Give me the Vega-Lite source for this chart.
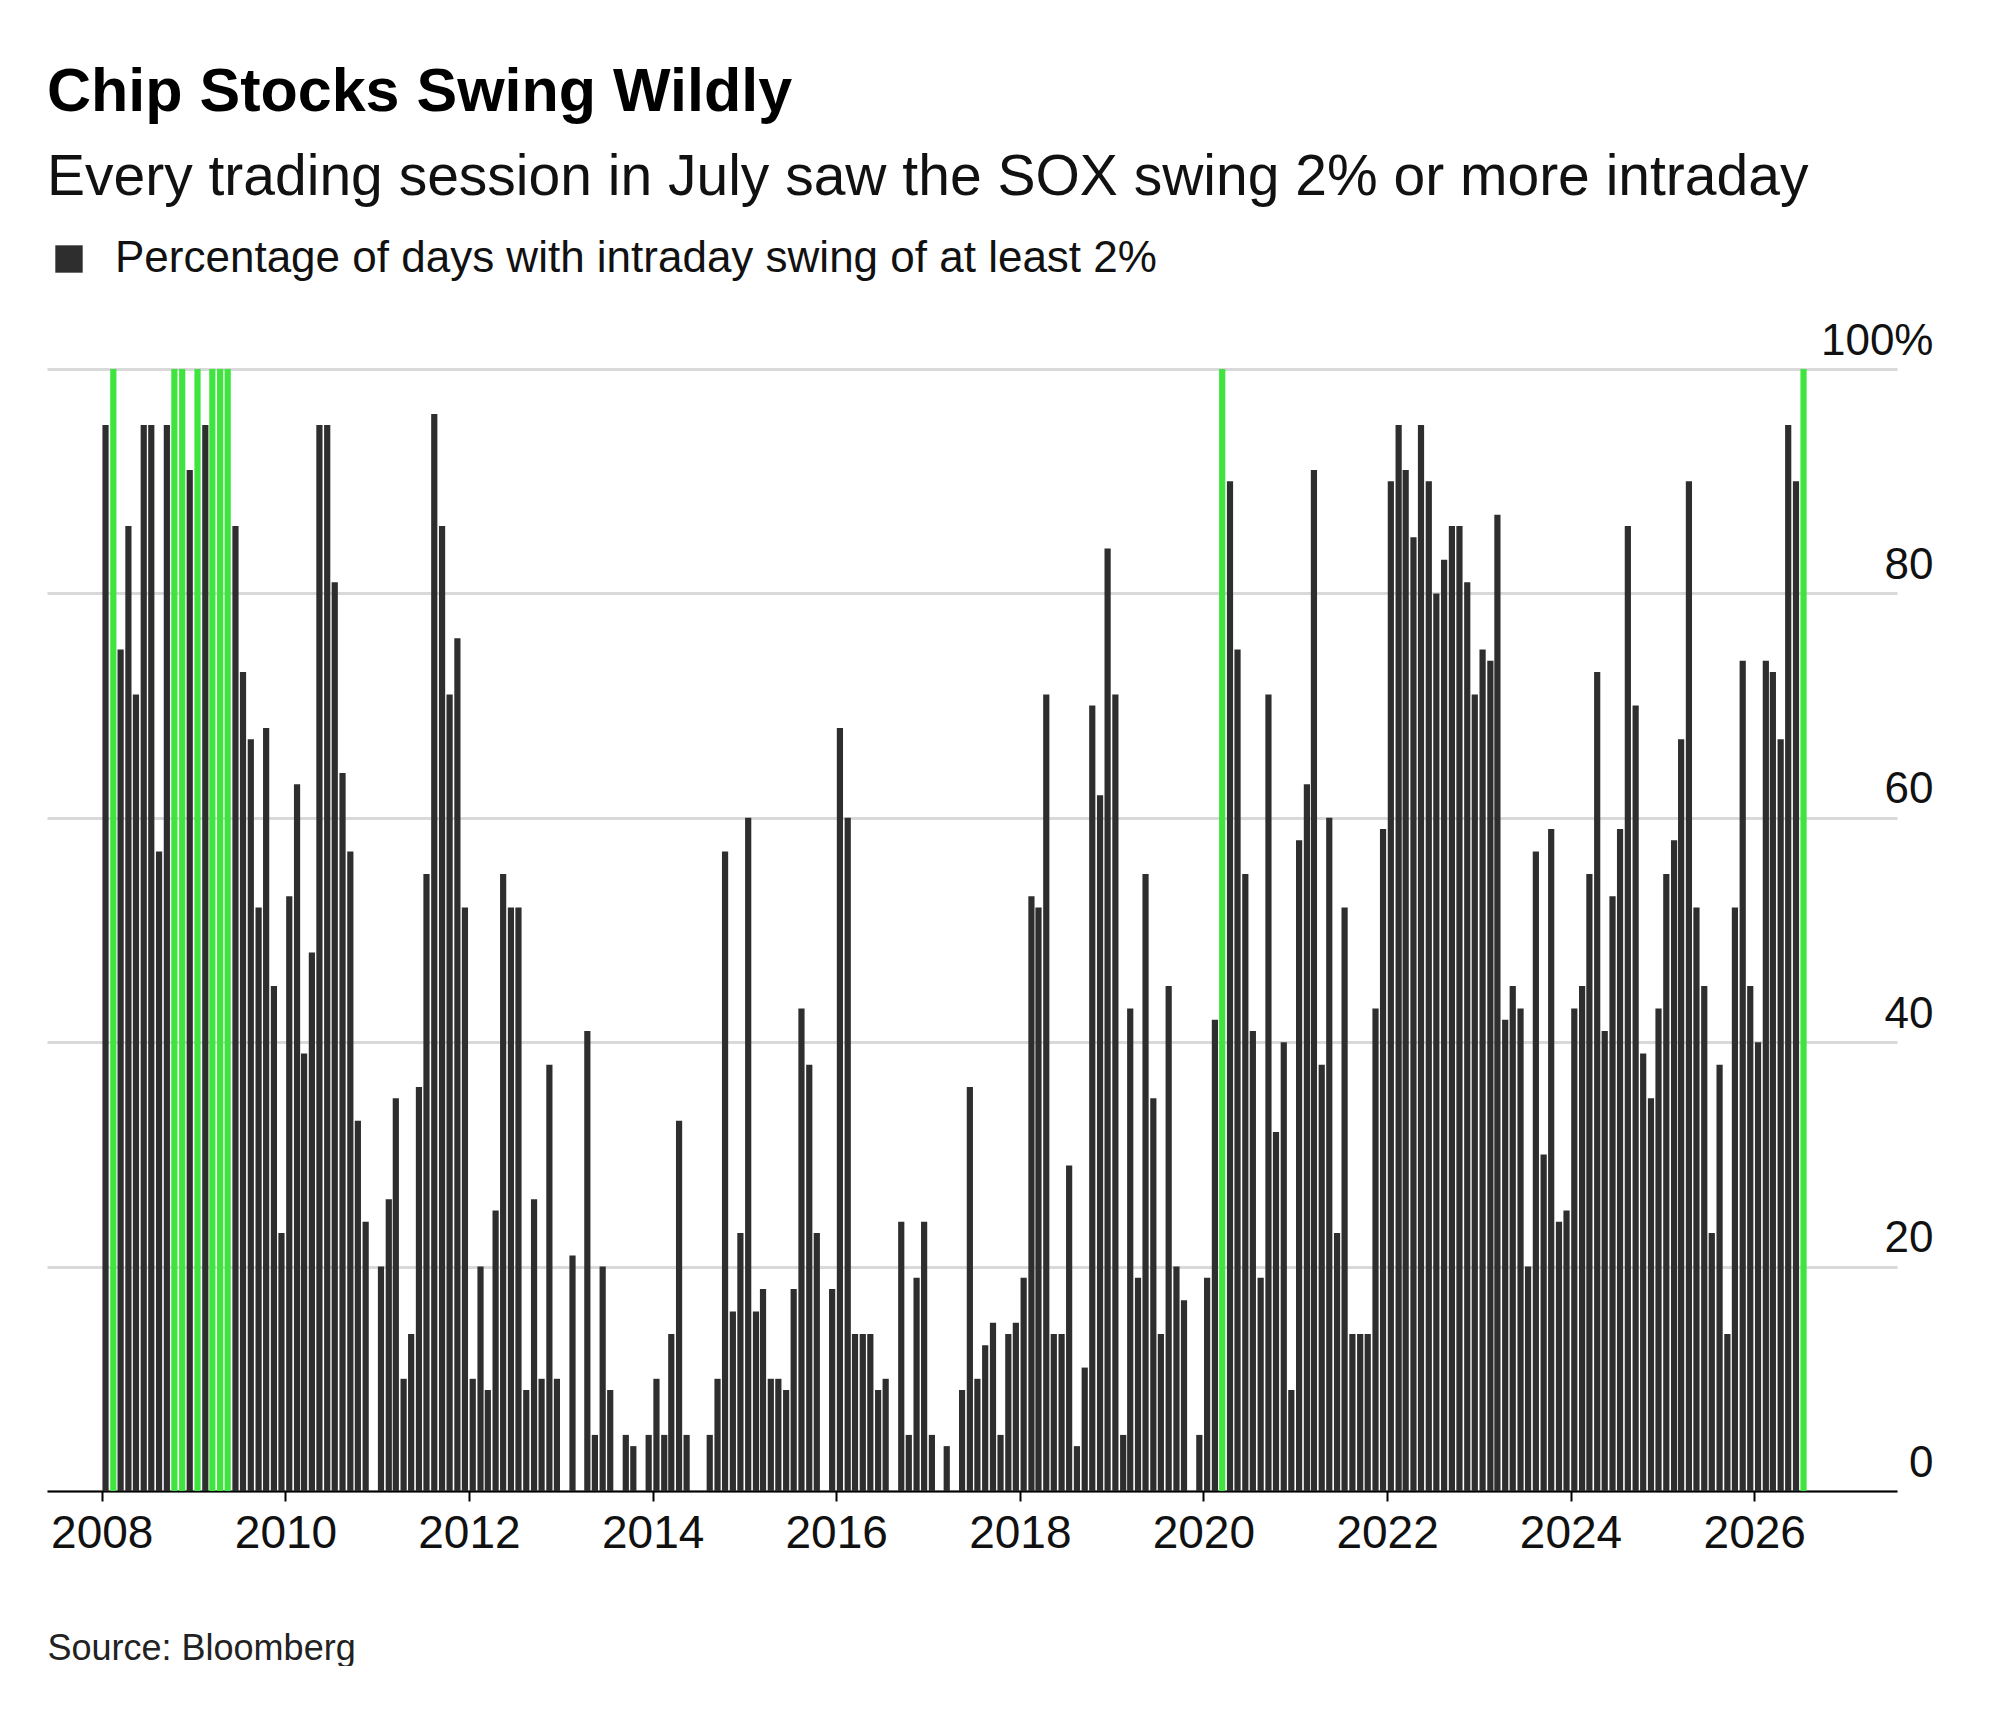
{
  "$schema": "https://vega.github.io/schema/vega-lite/v6.json",
  "width": 1850,
  "height": 1122,
  "padding": {"left": 47, "top": 62, "right": 0, "bottom": 0},
  "background": "white",
  "config": {
    "font": "Liberation Sans",
    "view": {"stroke": null}
  },
  "title": {
    "text": "Chip Stocks Swing Wildly",
    "subtitle": "Every trading session in July saw the SOX swing 2% or more intraday",
    "anchor": "start",
    "frame": "group",
    "font": "Liberation Sans",
    "fontSize": 61,
    "fontWeight": "bold",
    "color": "#000000",
    "subtitleFont": "Liberation Sans",
    "subtitleFontSize": 57,
    "subtitleColor": "#111111",
    "subtitlePadding": 26,
    "offset": 30
  },
  "data": {
    "values": [
      {"m": 0, "v": 95}, {"m": 1, "v": 100}, {"m": 2, "v": 75}, {"m": 3, "v": 86}, {"m": 4, "v": 71}, {"m": 5, "v": 95}, {"m": 6, "v": 95}, {"m": 7, "v": 57}, {"m": 8, "v": 95}, {"m": 9, "v": 100}, {"m": 10, "v": 100}, {"m": 11, "v": 91},
      {"m": 12, "v": 100}, {"m": 13, "v": 95}, {"m": 14, "v": 100}, {"m": 15, "v": 100}, {"m": 16, "v": 100}, {"m": 17, "v": 86}, {"m": 18, "v": 73}, {"m": 19, "v": 67}, {"m": 20, "v": 52}, {"m": 21, "v": 68}, {"m": 22, "v": 45}, {"m": 23, "v": 23},
      {"m": 24, "v": 53}, {"m": 25, "v": 63}, {"m": 26, "v": 39}, {"m": 27, "v": 48}, {"m": 28, "v": 95}, {"m": 29, "v": 95}, {"m": 30, "v": 81}, {"m": 31, "v": 64}, {"m": 32, "v": 57}, {"m": 33, "v": 33}, {"m": 34, "v": 24}, {"m": 35, "v": 0},
      {"m": 36, "v": 20}, {"m": 37, "v": 26}, {"m": 38, "v": 35}, {"m": 39, "v": 10}, {"m": 40, "v": 14}, {"m": 41, "v": 36}, {"m": 42, "v": 55}, {"m": 43, "v": 96}, {"m": 44, "v": 86}, {"m": 45, "v": 71}, {"m": 46, "v": 76}, {"m": 47, "v": 52},
      {"m": 48, "v": 10}, {"m": 49, "v": 20}, {"m": 50, "v": 9}, {"m": 51, "v": 25}, {"m": 52, "v": 55}, {"m": 53, "v": 52}, {"m": 54, "v": 52}, {"m": 55, "v": 9}, {"m": 56, "v": 26}, {"m": 57, "v": 10}, {"m": 58, "v": 38}, {"m": 59, "v": 10},
      {"m": 60, "v": 0}, {"m": 61, "v": 21}, {"m": 62, "v": 0}, {"m": 63, "v": 41}, {"m": 64, "v": 5}, {"m": 65, "v": 20}, {"m": 66, "v": 9}, {"m": 67, "v": 0}, {"m": 68, "v": 5}, {"m": 69, "v": 4}, {"m": 70, "v": 0}, {"m": 71, "v": 5},
      {"m": 72, "v": 10}, {"m": 73, "v": 5}, {"m": 74, "v": 14}, {"m": 75, "v": 33}, {"m": 76, "v": 5}, {"m": 77, "v": 0}, {"m": 78, "v": 0}, {"m": 79, "v": 5}, {"m": 80, "v": 10}, {"m": 81, "v": 57}, {"m": 82, "v": 16}, {"m": 83, "v": 23},
      {"m": 84, "v": 60}, {"m": 85, "v": 16}, {"m": 86, "v": 18}, {"m": 87, "v": 10}, {"m": 88, "v": 10}, {"m": 89, "v": 9}, {"m": 90, "v": 18}, {"m": 91, "v": 43}, {"m": 92, "v": 38}, {"m": 93, "v": 23}, {"m": 94, "v": 0}, {"m": 95, "v": 18},
      {"m": 96, "v": 68}, {"m": 97, "v": 60}, {"m": 98, "v": 14}, {"m": 99, "v": 14}, {"m": 100, "v": 14}, {"m": 101, "v": 9}, {"m": 102, "v": 10}, {"m": 103, "v": 0}, {"m": 104, "v": 24}, {"m": 105, "v": 5}, {"m": 106, "v": 19}, {"m": 107, "v": 24},
      {"m": 108, "v": 5}, {"m": 109, "v": 0}, {"m": 110, "v": 4}, {"m": 111, "v": 0}, {"m": 112, "v": 9}, {"m": 113, "v": 36}, {"m": 114, "v": 10}, {"m": 115, "v": 13}, {"m": 116, "v": 15}, {"m": 117, "v": 5}, {"m": 118, "v": 14}, {"m": 119, "v": 15},
      {"m": 120, "v": 19}, {"m": 121, "v": 53}, {"m": 122, "v": 52}, {"m": 123, "v": 71}, {"m": 124, "v": 14}, {"m": 125, "v": 14}, {"m": 126, "v": 29}, {"m": 127, "v": 4}, {"m": 128, "v": 11}, {"m": 129, "v": 70}, {"m": 130, "v": 62}, {"m": 131, "v": 84},
      {"m": 132, "v": 71}, {"m": 133, "v": 5}, {"m": 134, "v": 43}, {"m": 135, "v": 19}, {"m": 136, "v": 55}, {"m": 137, "v": 35}, {"m": 138, "v": 14}, {"m": 139, "v": 45}, {"m": 140, "v": 20}, {"m": 141, "v": 17}, {"m": 142, "v": 0}, {"m": 143, "v": 5},
      {"m": 144, "v": 19}, {"m": 145, "v": 42}, {"m": 146, "v": 100}, {"m": 147, "v": 90}, {"m": 148, "v": 75}, {"m": 149, "v": 55}, {"m": 150, "v": 41}, {"m": 151, "v": 19}, {"m": 152, "v": 71}, {"m": 153, "v": 32}, {"m": 154, "v": 40}, {"m": 155, "v": 9},
      {"m": 156, "v": 58}, {"m": 157, "v": 63}, {"m": 158, "v": 91}, {"m": 159, "v": 38}, {"m": 160, "v": 60}, {"m": 161, "v": 23}, {"m": 162, "v": 52}, {"m": 163, "v": 14}, {"m": 164, "v": 14}, {"m": 165, "v": 14}, {"m": 166, "v": 43}, {"m": 167, "v": 59},
      {"m": 168, "v": 90}, {"m": 169, "v": 95}, {"m": 170, "v": 91}, {"m": 171, "v": 85}, {"m": 172, "v": 95}, {"m": 173, "v": 90}, {"m": 174, "v": 80}, {"m": 175, "v": 83}, {"m": 176, "v": 86}, {"m": 177, "v": 86}, {"m": 178, "v": 81}, {"m": 179, "v": 71},
      {"m": 180, "v": 75}, {"m": 181, "v": 74}, {"m": 182, "v": 87}, {"m": 183, "v": 42}, {"m": 184, "v": 45}, {"m": 185, "v": 43}, {"m": 186, "v": 20}, {"m": 187, "v": 57}, {"m": 188, "v": 30}, {"m": 189, "v": 59}, {"m": 190, "v": 24}, {"m": 191, "v": 25},
      {"m": 192, "v": 43}, {"m": 193, "v": 45}, {"m": 194, "v": 55}, {"m": 195, "v": 73}, {"m": 196, "v": 41}, {"m": 197, "v": 53}, {"m": 198, "v": 59}, {"m": 199, "v": 86}, {"m": 200, "v": 70}, {"m": 201, "v": 39}, {"m": 202, "v": 35}, {"m": 203, "v": 43},
      {"m": 204, "v": 55}, {"m": 205, "v": 58}, {"m": 206, "v": 67}, {"m": 207, "v": 90}, {"m": 208, "v": 52}, {"m": 209, "v": 45}, {"m": 210, "v": 23}, {"m": 211, "v": 38}, {"m": 212, "v": 14}, {"m": 213, "v": 52}, {"m": 214, "v": 74}, {"m": 215, "v": 45},
      {"m": 216, "v": 40}, {"m": 217, "v": 74}, {"m": 218, "v": 73}, {"m": 219, "v": 67}, {"m": 220, "v": 95}, {"m": 221, "v": 90}, {"m": 222, "v": 100}
    ]
  },
  "transform": [
    {"calculate": "datetime(2008 + floor(datum.m / 12), datum.m % 12, 16)", "as": "date"},
    {"calculate": "'Percentage of days with intraday swing of at least 2%'", "as": "series"}
  ],
  "mark": {"type": "bar", "width": 6.2},
  "encoding": {
    "x": {
      "field": "date",
      "type": "temporal",
      "scale": {"domain": [{"year": 2007, "month": 6, "date": 17}, {"year": 2027, "month": 7, "date": 3}]},
      "axis": {
        "values": [
          {"year": 2008, "month": 1, "date": 1}, {"year": 2010, "month": 1, "date": 1}, {"year": 2012, "month": 1, "date": 1},
          {"year": 2014, "month": 1, "date": 1}, {"year": 2016, "month": 1, "date": 1}, {"year": 2018, "month": 1, "date": 1},
          {"year": 2020, "month": 1, "date": 1}, {"year": 2022, "month": 1, "date": 1}, {"year": 2024, "month": 1, "date": 1},
          {"year": 2026, "month": 1, "date": 1}
        ],
        "format": "%Y",
        "grid": false,
        "domainColor": "#000000",
        "domainWidth": 2,
        "tickColor": "#000000",
        "tickWidth": 2,
        "tickSize": 10,
        "labelFontSize": 46,
        "labelColor": "#111111",
        "labelPadding": 10,
        "title": "Source: Bloomberg",
        "titleFontSize": 36,
        "titleFontWeight": "normal",
        "titleColor": "#222222",
        "titleAnchor": "start",
        "titleAlign": "left",
        "titlePadding": 75
      }
    },
    "y": {
      "field": "v",
      "type": "quantitative",
      "scale": {"domain": [0, 100]},
      "axis": {
        "orient": "right",
        "values": [0, 20, 40, 60, 80, 100],
        "labelExpr": "datum.value == 100 ? '100%' : datum.label",
        "domain": false,
        "ticks": false,
        "gridColor": "#d9d9d9",
        "gridWidth": 3,
        "labelFontSize": 44,
        "labelColor": "#111111",
        "labelAlign": "right",
        "labelBaseline": "bottom",
        "labelPadding": 36,
        "labelOffset": -6,
        "title": null
      }
    },
    "color": {
      "condition": {"test": "datum.v >= 100", "value": "#3fe43f"},
      "field": "series",
      "type": "nominal",
      "scale": {"range": ["#2e2e2e"]},
      "legend": {
        "title": null,
        "orient": "none",
        "legendX": 0,
        "legendY": -132,
        "symbolType": "square",
        "symbolSize": 750,
        "labelFontSize": 44,
        "labelColor": "#111111",
        "labelLimit": 1500,
        "labelOffset": 24
      }
    }
  }
}
